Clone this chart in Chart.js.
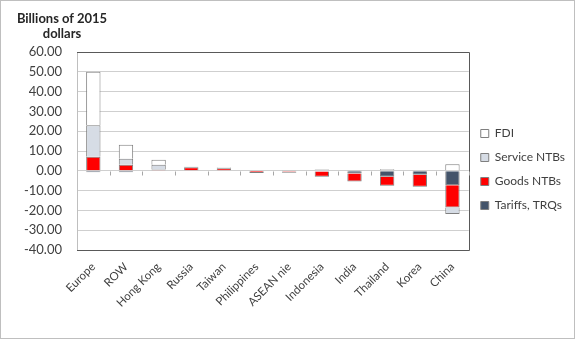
<!DOCTYPE html>
<html>
<head>
<meta charset="utf-8">
<script src="https://cdn.jsdelivr.net/npm/chart.js@4.4.1/dist/chart.umd.min.js"></script>
<style>
  html, body { margin: 0; padding: 0; background: #fff; }
  #wrap { position: relative; width: 575px; height: 339px; }
  #unit {
    position: absolute; left: 8px; top: 11px; width: 108px;
    font: bold 13px Lato, sans-serif; color: #262626; text-align: center; line-height: 15px;
  }
</style>
</head>
<body>
<div id="wrap">
  <canvas id="c" width="575" height="339"></canvas>
  <div id="unit">Billions of 2015<br>dollars</div>
</div>
<script>
const countries = ['Europe', 'ROW', 'Hong Kong', 'Russia', 'Taiwan', 'Philippines', 'ASEAN nie', 'Indonesia', 'India', 'Thailand', 'Korea', 'China']
const tariffs = [-0.7, -0.7, 0, 0.3, 0, -0.2, -0.3, -0.4, -1.4, -3.0, -2.0, -7.3]
const goodsNtbs = [7.1, 3.0, 0.6, 1.5, 1.3, -0.9, -0.7, -2.6, -4.0, -4.5, -6.1, -11.2]
const serviceNtbs = [15.9, 3.1, 2.4, 0, 0, 0, 0, 0.6, 0, 0, 0, -3.3]
const fdi = [27.0, 7.1, 2.6, 0.2, 0.4, 0, 0.2, 0, 0.2, 0.8, 0.3, 3.3]
const yMin = -40, yMax = 60, yStep = 10

const textColor = '#404040'

// lift the legend so it sits centred on the whole picture, like the original
const legendLift = {
  id: 'legendLift',
  afterLayout(chart) {
    const lg = chart.legend
    const shift = (lg.top + lg.bottom) / 2 - chart.height / 2
    lg.top -= shift
    lg.bottom -= shift
  },
}

// frame around the whole picture, the plot box and the little ticks on the zero line
const framePlugin = {
  id: 'frame',
  afterDraw(chart) {
    const { ctx, chartArea: a, scales } = chart
    ctx.save()
    ctx.strokeStyle = '#bfbfbf'
    ctx.lineWidth = 1
    ctx.strokeRect(0.5, 0.5, chart.width - 1, chart.height - 1)

    ctx.strokeStyle = '#595959'
    ctx.beginPath()
    ctx.moveTo(a.left, Math.round(a.top) + 0.5)
    ctx.lineTo(Math.round(a.right) + 0.5, Math.round(a.top) + 0.5)
    ctx.lineTo(Math.round(a.right) + 0.5, Math.round(a.bottom) + 0.5)
    ctx.lineTo(a.left, Math.round(a.bottom) + 0.5)
    ctx.stroke()

    const y0 = Math.round(scales.y.getPixelForValue(0)) + 0.5
    ctx.strokeStyle = '#a6a6a6'
    ctx.beginPath()
    for (let i = 0; i < countries.length; i++) {
      const x = Math.round(scales.x.getPixelForValue(i + 0.5)) + 0.5
      ctx.moveTo(x, y0)
      ctx.lineTo(x, y0 + 4)
    }
    ctx.stroke()
    ctx.restore()
  },
}

const common = { borderColor: '#7f7f7f', borderWidth: 1, barPercentage: 0.55, categoryPercentage: 0.8, stack: 's' }

new Chart(document.getElementById('c'), {
  type: 'bar',
  data: {
    labels: countries,
    datasets: [
      { label: 'Tariffs, TRQs', data: tariffs, backgroundColor: '#44546a', ...common },
      { label: 'Goods NTBs', data: goodsNtbs, backgroundColor: '#ff0000', ...common },
      { label: 'Service NTBs', data: serviceNtbs, backgroundColor: '#d6dce5', ...common },
      { label: 'FDI', data: fdi, backgroundColor: '#ffffff', ...common },
    ],
  },
  options: {
    responsive: false,
    animation: false,
    layout: { padding: { top: 52, right: 0, left: 0, bottom: 0 } },
    plugins: {
      tooltip: { enabled: false },
      legend: {
        position: 'right',
        reverse: true,
        labels: {
          boxWidth: 8, boxHeight: 8, padding: 12, color: textColor,
          font: { family: 'Lato', size: 12 },
        },
      },
    },
    scales: {
      x: {
        stacked: true,
        grid: { display: false },
        border: { display: false },
        ticks: { color: textColor, font: { family: 'Lato', size: 11.5 }, maxRotation: 45, minRotation: 45, autoSkip: false, padding: 2 },
        afterFit(scale) { scale.height = 89 },
      },
      y: {
        stacked: true,
        min: yMin, max: yMax,
        grid: { color: '#cfcfcf', drawTicks: false },
        border: { color: '#bfbfbf' },
        ticks: { stepSize: yStep, color: textColor, font: { family: 'Lato', size: 13 }, padding: 15, callback: v => v.toFixed(2) },
        afterFit(scale) { scale.width = 77 },
      },
    },
  },
  plugins: [legendLift, framePlugin],
})
</script>
</body>
</html>
